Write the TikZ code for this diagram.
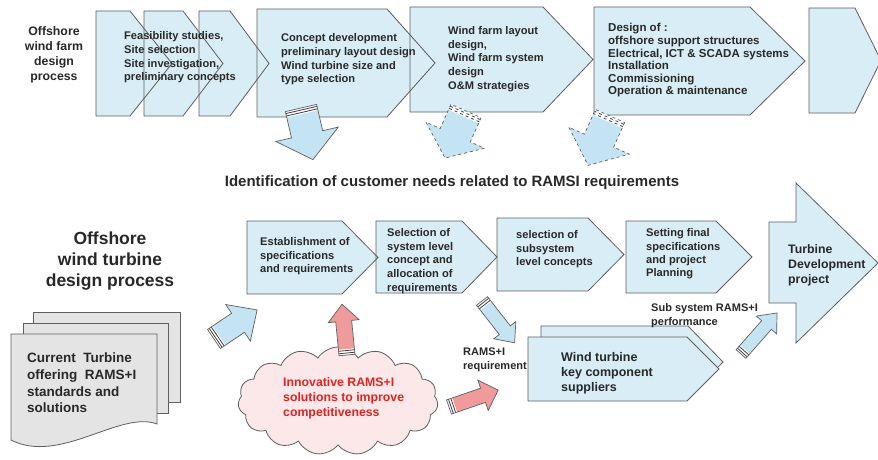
\documentclass[tikz,border=0pt]{standalone}
\usepackage{fontspec}
\setmainfont{Liberation Sans}
\usetikzlibrary{shapes.symbols}
\definecolor{chev}{RGB}{216,237,245}
\definecolor{arrblue}{RGB}{196,228,244}
\definecolor{arrpink}{RGB}{240,155,155}
\definecolor{cloudpink}{RGB}{252,232,232}
\definecolor{docgray}{RGB}{228,228,228}
\definecolor{edge}{RGB}{95,95,95}
\definecolor{txtcol}{RGB}{40,40,40}
\definecolor{redtxt}{RGB}{218,37,37}
\newcommand{\chevpath}[5]{(#1,#2) -- (#3,#2) -- (#4,{(#2+#5)/2}) -- (#3,#5) -- (#1,#5) -- cycle}
% x, y, angle, length, shaft half, head half, head length, fill, line style
\newcommand{\blockarr}[9]{%
  \begin{scope}[shift={(#1,#2)},rotate=#3]
    \fill[#8] (0,-#5) -- ({#4-#7},-#5) -- ({#4-#7},-#6) -- (#4,0) -- ({#4-#7},#6) -- ({#4-#7},#5) -- (0,#5) -- cycle;
    \fill[white] (0,-#5) rectangle (6,#5);
    \draw[stripe,#9] (2,-#5) -- (2,#5) (4.5,-#5) -- (4.5,#5);
    \draw[arrline,#9] (0,-#5) -- ({#4-#7},-#5) -- ({#4-#7},-#6) -- (#4,0) -- ({#4-#7},#6) -- ({#4-#7},#5) -- (0,#5) -- cycle;
  \end{scope}}
\tikzset{
  chevline/.style={draw=edge, line width=0.8pt, line join=miter},
  arrline/.style={draw=edge, line width=0.7pt, line join=miter},
  stripe/.style={draw=black!75, line width=0.8pt},
  ctxt/.style={anchor=west, align=left, inner sep=0pt, text=txtcol,
    font=\bfseries\fontsize{11.1}{13.6}\selectfont},
}
\begin{document}
\begin{tikzpicture}[x=1pt,y=-1pt]
\useasboundingbox (0,0) rectangle (878,460);
\clip (0,0) rectangle (878,460);
\fill[white] (0,0) rectangle (878,460);

% ---------- top chevrons ----------
\fill[chev] \chevpath{96}{11}{130}{172}{116};
\fill[chev] \chevpath{144}{11}{183}{223}{116};
\fill[chev] \chevpath{199}{11}{230}{269}{116};
\fill[chev] \chevpath{257}{9}{387}{435}{117};
\fill[chev] \chevpath{410}{7}{543}{593}{112};
\fill[chev] \chevpath{594}{7}{750}{805}{115};
\fill[chev] \chevpath{809}{8}{855}{881}{113};
\draw[chevline] \chevpath{96}{11}{130}{172}{116};
\draw[chevline] \chevpath{144}{11}{183}{223}{116};
\draw[chevline] \chevpath{199}{11}{230}{269}{116};
\draw[chevline] \chevpath{257}{9}{387}{435}{117};
\draw[chevline] \chevpath{410}{7}{543}{593}{112};
\draw[chevline] \chevpath{594}{7}{750}{805}{115};
\draw[chevline] \chevpath{809}{8}{855}{881}{113};

\node[align=center, inner sep=0pt, text=txtcol, font=\bfseries\fontsize{12.3}{15}\selectfont] (farmlbl) at (54,54.5) {Offshore\\wind farm\\design\\process};
\node[ctxt] (t1) at (124,57.5) {Feasibility studies,\\Site selection\\Site investigation,\\preliminary concepts};
\node[ctxt] (t4) at (281,59.5) {Concept development\\preliminary layout design\\Wind turbine size and\\type selection};
\node[ctxt] (t5) at (448,59) {Wind farm layout\\design,\\Wind farm system\\design\\O\&M strategies};
\node[ctxt, font=\bfseries\fontsize{11.5}{12.6}\selectfont] (t6) at (608,60.5) {Design of :\\offshore support structures\\Electrical, ICT \& SCADA systems\\Installation\\Commissioning\\Operation \& maintenance};

% down arrows
\blockarr{301}{108}{-77}{53}{16}{32}{26}{arrblue}{solid}
\blockarr{466}{111}{-114}{51.5}{16.5}{32}{25}{arrblue}{dashed}
\blockarr{610}{116}{-114}{54}{16}{33}{27}{arrblue}{dashed}

\node[inner sep=0pt, text=txtcol, font=\bfseries\fontsize{15}{17}\selectfont] (ident) at (452,183) {Identification of customer needs related to RAMSI requirements};

% ---------- bottom ----------
\node[align=center, inner sep=0pt, text=txtcol, font=\bfseries\fontsize{17.5}{21}\selectfont] (wtlbl) at (110,261) {Offshore\\wind turbine\\design process};

\fill[chev] \chevpath{247}{221}{342}{378}{294};
\fill[chev] \chevpath{376}{221}{462}{497}{293};
\fill[chev] \chevpath{497}{218}{588}{624}{291};
\fill[chev] \chevpath{626}{221}{716}{752}{293};
\draw[chevline] \chevpath{247}{221}{342}{378}{294};
\draw[chevline] \chevpath{376}{221}{462}{497}{293};
\draw[chevline] \chevpath{497}{218}{588}{624}{291};
\draw[chevline] \chevpath{626}{221}{716}{752}{293};
\draw[chevline, fill=chev] (769,222) -- (796,222) -- (796,183) -- (878,263) -- (796,343) -- (796,303) -- (769,303) -- cycle;

\node[ctxt] (b1) at (260,256.5) {Establishment of\\specifications\\and requirements};
\node[ctxt] (b2) at (387,261) {Selection of\\system level\\concept and\\allocation of\\requirements};
\node[ctxt] (b3) at (516,249.5) {selection of\\subsystem\\level concepts};
\node[ctxt, font=\bfseries\fontsize{11.1}{13.3}\selectfont] (b4) at (646,254) {Setting final\\specifications\\and project\\Planning};
\node[ctxt, font=\bfseries\fontsize{12.3}{15}\selectfont] (b5) at (788,265) {Turbine\\Development\\project};

% document stack
\draw[chevline, fill=docgray] (33,312) rectangle (180,402);
\draw[chevline, fill=docgray] (23,323) rectangle (168,413);
\draw[chevline, fill=docgray] (11,334) -- (157,334) -- (157,424) .. controls (120,410) and (60,465) .. (11,440) -- cycle;
\node[ctxt, font=\bfseries\fontsize{13.5}{16.7}\selectfont] (doc) at (27,383) {Current~~Turbine\\offering~~RAMS+I\\standards and\\solutions};

% suppliers stack
\draw[chevline, fill=chev] (541,326) -- (688,326) -- (723,362) -- (688,398) -- (541,398) -- cycle;
\draw[chevline, fill=chev] (528,337) -- (687,337) -- (719,369) -- (687,401) -- (528,401) -- cycle;
\node[ctxt, font=\bfseries\fontsize{12.5}{15}\selectfont] (sup) at (561,373) {Wind turbine\\key component\\suppliers};

% cloud
\node[cloud, cloud puffs=15, cloud puff arc=115, aspect=1.85, draw=edge, line width=0.8pt, fill=cloudpink,
  minimum width=200pt, minimum height=108pt, inner sep=0pt] (cloud) at (338,401) {};
\node[ctxt, text=redtxt, font=\bfseries\fontsize{12.3}{15}\selectfont] (ctext) at (283,398) {Innovative RAMS+I\\solutions to improve\\competitiveness};

% bottom arrows
\blockarr{214}{339}{34}{52}{11.5}{22}{23}{arrblue}{solid}
\blockarr{347}{355}{95.6}{51}{8}{15.5}{17}{arrpink}{solid}
\blockarr{449}{407}{19}{52}{7.5}{16}{16}{arrpink}{solid}
\blockarr{482}{301}{-52}{53}{7}{14}{16}{arrblue}{solid}
\blockarr{741}{354}{48.7}{54.6}{6.5}{13.5}{16}{arrblue}{solid}

\node[ctxt, font=\bfseries\fontsize{11}{14}\selectfont] (req) at (463,360) {RAMS+I\\requirement};
\node[ctxt, font=\bfseries\fontsize{11}{14}\selectfont] (perf) at (651,316) {Sub system RAMS+I\\performance};
\end{tikzpicture}
\end{document}
